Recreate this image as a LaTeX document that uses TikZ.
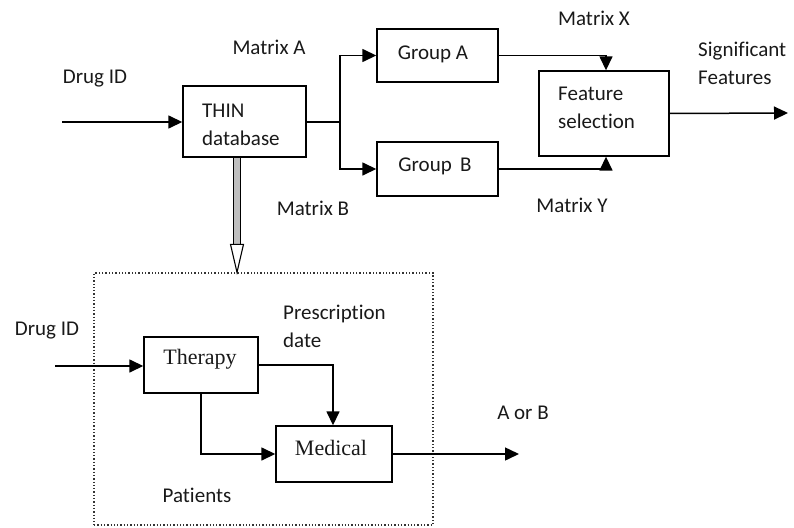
\documentclass[tikz,border=0pt]{standalone}
\usepackage{fontspec}
\setmainfont{Carlito}[Ligatures=NoCommon]
\newfontfamily\serifbox{Liberation Serif}
\usetikzlibrary{arrows.meta,calc}
\begin{document}
\begin{tikzpicture}[x=1pt,y=-1pt,
  box/.style={draw=black,line width=1.4pt,inner sep=0pt},
  txt/.style={inner sep=0pt,font=\fontsize{21}{28}\selectfont,text=black!90},
  stxt/.style={inner sep=0pt,font=\serifbox\fontsize{22}{28}\selectfont,text=black!90},
  arr/.style={line width=1.5pt,-{Triangle[length=14pt,width=13pt]}},
  ln/.style={line width=1.5pt}]
\useasboundingbox (0,0) rectangle (794,527);
% boxes
\node[box,minimum width=123pt,minimum height=71pt] (thin) at (244.5,121.5) {};
\node[box,minimum width=121pt,minimum height=53pt] (ga) at (437.5,55.5) {};
\node[box,minimum width=121pt,minimum height=54pt] (gb) at (437.5,169) {};
\node[box,minimum width=130pt,minimum height=85pt] (fs) at (604,113.5) {};
\node[draw=black!80,dotted,line width=1.3pt,minimum width=339pt,minimum height=252pt,inner sep=0pt] (dbox) at (263.5,399) {};
\node[box,minimum width=114pt,minimum height=56pt] (ther) at (201,365) {};
\node[box,minimum width=116pt,minimum height=56pt] (med) at (334,454) {};
% texts
\node[txt,align=left,anchor=west] (thint) at (202,125) {THIN\\database};
\node[txt] (gat) at (433,54) {Group A};
\node[txt] (gbt) at (435,166) {Group\ \,B};
\node[txt,align=left,anchor=west] (fst) at (558,108) {Feature\\selection};
\node[stxt] (thert) at (200,359) {Therapy};
\node[stxt] (medt) at (331,448) {Medical};
\node[txt] (d1) at (95,79) {Drug ID};
\node[txt] (ma) at (269,47) {Matrix A};
\node[txt] (mb) at (313,208) {Matrix B};
\node[txt] (mx) at (594,18) {Matrix X};
\node[txt] (my) at (572,205) {Matrix Y};
\node[txt,align=left,anchor=west] (sf) at (698,63) {Significant\\Features};
\node[txt] (d2) at (47,331) {Drug ID};
\node[txt,align=left,anchor=west] (pd) at (283,326) {Prescription\\date};
\node[txt] (pt) at (197,495) {Patients};
\node[txt] (ab) at (523,413) {A or B};
% coordinates
\coordinate (in1) at (62,122);
\coordinate (split) at (340,122);
\coordinate (out1) at (788,113);
\coordinate (in2) at (55,366);
\coordinate (out2) at (519,454);
% connectors
\draw[arr] (in1) -- (in1 -| thin.west);
\draw[ln] (thin.east |- split) -- (split);
\draw[arr] (split) |- (ga.west);
\draw[arr] (split) |- (gb.west);
\draw[arr] (ga.east) -| ($(fs.north)+(2,0)$);
\draw[arr] (gb.east) -| ($(fs.south)+(2,0)$);
\draw[arr] (fs.east) -- (out1);
\draw[arr] (in2) -- (in2 -| ther.west);
\draw[arr] (ther.east) -| ($(med.north)+(-1,0)$);
\draw[arr] (ther.south) |- (med.west);
\draw[arr] (med.east) -- (out2);
% hollow double arrow
\coordinate (ds) at ($(thin.south)+(-7.5,0)$);
\coordinate (dt) at (ds |- dbox.north);
\fill[black!25] ($(ds)+(-3.5,0)$) rectangle ($(dt)+(3.5,-28)$);
\draw[line width=1.1pt,fill=white,line join=miter]
  ($(dt)+(-3.5,-28)$) -- ($(dt)+(-6.5,-28)$) -- (dt) -- ($(dt)+(6.5,-28)$) -- ($(dt)+(3.5,-28)$) -- cycle;
\draw[line width=1.1pt] ($(ds)+(-3.5,0)$) -- ($(dt)+(-3.5,-28)$);
\draw[line width=1.1pt] ($(ds)+(3.5,0)$) -- ($(dt)+(3.5,-28)$);
\end{tikzpicture}
\end{document}
